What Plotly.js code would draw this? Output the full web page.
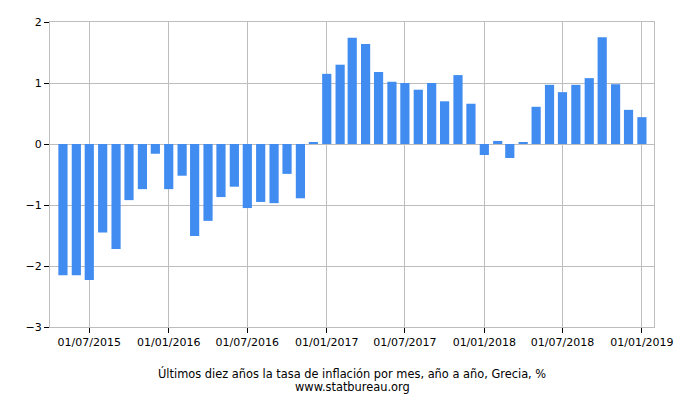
<!DOCTYPE html>
<html><head><meta charset="utf-8">
<script src="https://cdn.plot.ly/plotly-3.0.1.min.js"></script>
<style>body{margin:0;background:#fff}#c{width:700px;height:400px}</style>
</head><body><div id="c"></div>
<script>
const months = ["2015-05-01","2015-06-01","2015-07-01","2015-08-01","2015-09-01","2015-10-01","2015-11-01","2015-12-01",
"2016-01-01","2016-02-01","2016-03-01","2016-04-01","2016-05-01","2016-06-01","2016-07-01","2016-08-01","2016-09-01","2016-10-01","2016-11-01","2016-12-01",
"2017-01-01","2017-02-01","2017-03-01","2017-04-01","2017-05-01","2017-06-01","2017-07-01","2017-08-01","2017-09-01","2017-10-01","2017-11-01","2017-12-01",
"2018-01-01","2018-02-01","2018-03-01","2018-04-01","2018-05-01","2018-06-01","2018-07-01","2018-08-01","2018-09-01","2018-10-01","2018-11-01","2018-12-01",
"2019-01-01"];
const inflation = [-2.15,-2.15,-2.23,-1.45,-1.72,-0.92,-0.74,-0.16,
-0.74,-0.52,-1.51,-1.26,-0.87,-0.70,-1.05,-0.95,-0.97,-0.49,-0.89,0.02,
1.15,1.30,1.74,1.64,1.18,1.02,1.00,0.89,1.00,0.70,1.13,0.66,
-0.18,0.05,-0.23,0.03,0.61,0.97,0.85,0.97,1.08,1.75,0.98,0.56,
0.44];
const tickVals = ["2015-07-01","2016-01-01","2016-07-01","2017-01-01","2017-07-01","2018-01-01","2018-07-01","2019-01-01"];
const tickText = ["01/07/2015","01/01/2016","01/07/2016","01/01/2017","01/07/2017","01/01/2018","01/07/2018","01/01/2019"];
const titleLines = ["Últimos diez años la tasa de inflación por mes, año a año, Grecia, %","www.statbureau.org"];

const font = {family:"DejaVu Sans, Verdana, sans-serif", size:11, color:"#000"};
const titleFont = {family:"DejaVu Sans, Verdana, sans-serif", size:11.4, color:"#000"};
Plotly.newPlot("c",[{
  type:"bar", x:months, y:inflation, marker:{color:"#418cf0"}, hoverinfo:"x+y"
}],{
  width:700,height:400,
  margin:{l:50,r:46,t:22,b:73},
  paper_bgcolor:"#fff", plot_bgcolor:"#fff",
  bargap:0.24, showlegend:false,
  font:font,
  xaxis:{type:"date", range:["2015-04-01","2019-01-29"], tickvals:tickVals, ticktext:tickText,
    showgrid:true, gridcolor:"#bdbdbd", gridwidth:1, ticks:"outside", ticklen:5, tickcolor:"#000",
    showline:true, linecolor:"#bdbdbd", mirror:true, zeroline:false, tickfont:font},
  yaxis:{range:[-3,2], dtick:1, showgrid:true, gridcolor:"#bdbdbd", gridwidth:1,
    ticks:"outside", ticklen:5, tickcolor:"#000", showline:true, linecolor:"#bdbdbd", mirror:true,
    zeroline:true, zerolinecolor:"#bdbdbd", zerolinewidth:1, tickfont:font},
  annotations:[
    {text:titleLines[0], xref:"paper", yref:"paper", x:0.5, y:0, yshift:-37, xanchor:"center", yanchor:"top", showarrow:false, font:titleFont},
    {text:titleLines[1], xref:"paper", yref:"paper", x:0.5, y:0, yshift:-51, xanchor:"center", yanchor:"top", showarrow:false, font:titleFont}
  ]
},{displayModeBar:false});
</script></body></html>
